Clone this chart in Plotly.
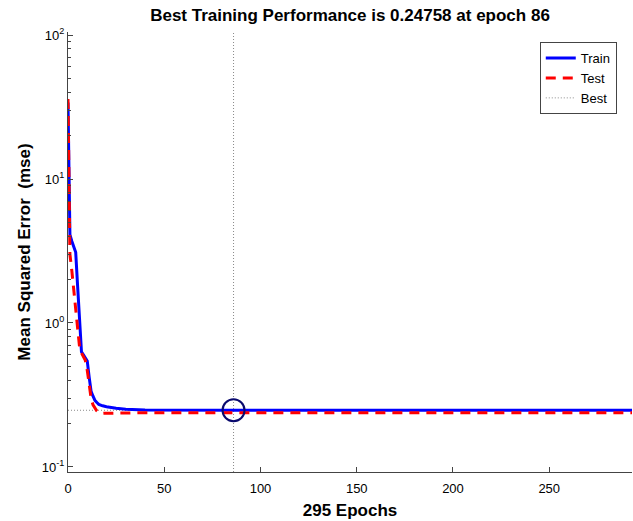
import plotly.graph_objects as go

# ---- data ----
train_epochs = [0, 1, 2, 3, 4, 5, 6, 7, 8, 9, 10, 11, 12, 13, 14, 15, 16, 18, 20, 25, 30, 40, 86, 295]
train_mse = [34, 4.1, 3.7, 3.4, 3.1, 1.8, 1.05, 0.63, 0.6, 0.57, 0.545, 0.42, 0.335, 0.31, 0.29, 0.28,
             0.272, 0.266, 0.262, 0.256, 0.252, 0.249, 0.24758, 0.2475]
test_epochs = [0, 1, 2, 3, 4, 5, 6, 7, 8, 9, 10, 11, 12, 13, 14, 15, 16, 17, 19, 25, 40, 295]
test_mse = [36, 3.0, 2.3, 1.7, 1.25, 0.92, 0.68, 0.62, 0.58, 0.55, 0.47, 0.37, 0.30, 0.27, 0.255,
            0.245, 0.238, 0.235, 0.236, 0.237, 0.238, 0.238]
best_epoch = 86
best_perf = 0.24758
total_epochs = 295
x_ticks = [0, 50, 100, 150, 200, 250]
y_ticks = [0.1, 1, 10, 100]
y_ticktext = ["10<sup>-1</sup>", "10<sup>0</sup>", "10<sup>1</sup>", "10<sup>2</sup>"]
y_minor = [m * d for d in (0.1, 1, 10) for m in range(2, 10)]

FONT = "Liberation Sans, Arial, sans-serif"

fig = go.Figure()

# best horizontal line
fig.add_trace(go.Scatter(x=[0, total_epochs], y=[best_perf, best_perf], mode="lines",
                         line=dict(color="#8a8a8a", width=1, dash="1px,2px"), name="Best",
                         legendrank=3))
fig.add_trace(go.Scatter(x=train_epochs, y=train_mse, mode="lines",
                         line=dict(color="#0000FF", width=3), name="Train", legendrank=1))
fig.add_trace(go.Scatter(x=test_epochs, y=test_mse, mode="lines",
                         line=dict(color="#FF0000", width=3, dash="10px,7px"), name="Test",
                         legendrank=2))
fig.add_trace(go.Scatter(x=[best_epoch], y=[best_perf], mode="markers",
                         marker=dict(symbol="circle-open", size=22, color="#0a0a6e",
                                     line=dict(width=2, color="#0a0a6e")),
                         showlegend=False))

fig.add_shape(type="line", xref="x", yref="paper", x0=best_epoch, x1=best_epoch, y0=0, y1=1,
              line=dict(color="#8a8a8a", width=1, dash="1px,2px"), layer="below")

fig.update_layout(
    width=633, height=521,
    margin=dict(l=68, r=1, t=32, b=49),
    paper_bgcolor="white", plot_bgcolor="white",
    font=dict(family=FONT, size=13, color="black"),
    title=dict(text="<b>Best Training Performance is 0.24758 at epoch 86</b>",
               x=(68 + 632) / 2 / 633, xanchor="center", y=1 - 15 / 521, yanchor="middle",
               font=dict(size=17, family=FONT, color="black")),
    showlegend=True,
    legend=dict(x=0.973, xanchor="right", y=0.977, yanchor="top",
                bordercolor="#444", borderwidth=1, bgcolor="white",
                font=dict(size=13, family=FONT), tracegroupgap=0),
    xaxis=dict(range=[0, 293], tickvals=x_ticks, ticks="inside", ticklen=5,
               tickcolor="#444", showline=True, linecolor="#444", linewidth=1,
               showgrid=False, zeroline=False, ticklabelstandoff=4,
               title=dict(text="<b>295 Epochs</b>", font=dict(size=17, family=FONT), standoff=9),
               tickfont=dict(size=13)),
    yaxis=dict(type="log", range=[-1.035, 2.021], tickvals=y_ticks, ticktext=y_ticktext,
               ticks="inside", ticklen=5, tickcolor="#444", showline=True,
               linecolor="#444", linewidth=1, showgrid=False, zeroline=False,
               minor=dict(tickvals=y_minor, ticks="inside", ticklen=3, tickcolor="#444",
                          showgrid=False),
               title=dict(text="<b>Mean Squared Error  (mse)</b>", font=dict(size=17, family=FONT),
                          standoff=6),
               tickfont=dict(size=13)),
)

fig.write_html("out.html")
